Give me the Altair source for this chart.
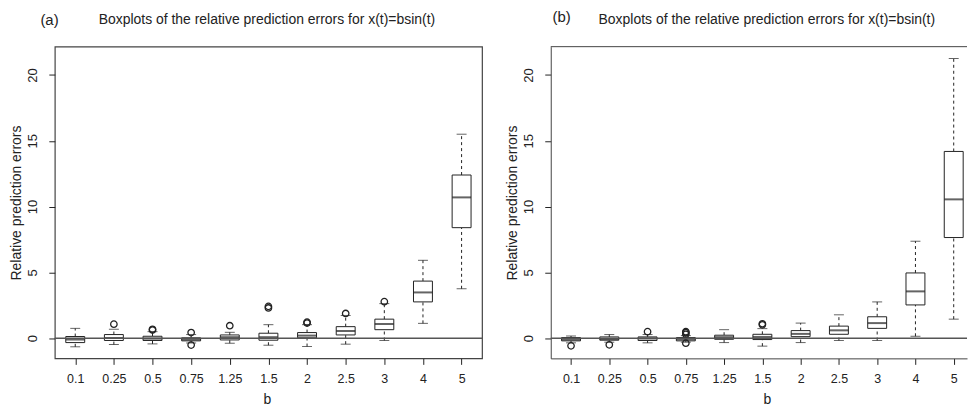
import altair as alt
import pandas as pd

# ---------------- data ----------------
b_labels = ["0.1", "0.25", "0.5", "0.75", "1.25", "1.5", "2", "2.5", "3", "4", "5"]
y_ticks = [0, 5, 10, 15, 20]

# panel (a)
a_lo = [-0.65, -0.48, -0.43, -0.36, -0.38, -0.53, -0.63, -0.45, -0.17, 1.13, 3.76]
a_q1 = [-0.33, -0.17, -0.17, -0.20, -0.13, -0.15, 0.03, 0.25, 0.65, 2.76, 8.40]
a_med = [-0.10, 0.02, -0.03, -0.10, 0.08, 0.08, 0.20, 0.55, 1.08, 3.48, 10.70]
a_q3 = [0.13, 0.28, 0.15, 0.03, 0.25, 0.38, 0.43, 0.88, 1.45, 4.34, 12.40]
a_hi = [0.75, 0.68, 0.50, 0.28, 0.45, 1.03, 1.03, 1.73, 2.63, 5.92, 15.50]
a_out_b = ["0.25", "0.5", "0.5", "0.75", "0.75", "1.25", "1.5", "1.5", "2", "2", "2.5", "3"]
a_out_v = [1.07, 0.62, 0.68, 0.43, -0.52, 0.95, 2.30, 2.42, 1.15, 1.22, 1.88, 2.78]

# panel (b)
b_lo = [-0.35, -0.30, -0.35, -0.30, -0.33, -0.60, -0.33, -0.17, -0.17, 0.15, 1.45]
b_q1 = [-0.20, -0.15, -0.17, -0.20, -0.08, -0.10, 0.12, 0.30, 0.75, 2.53, 7.65]
b_med = [-0.10, -0.05, -0.02, -0.08, 0.08, 0.10, 0.33, 0.60, 1.15, 3.56, 10.55]
b_q3 = [0.05, 0.10, 0.10, 0.05, 0.23, 0.30, 0.58, 0.92, 1.63, 4.96, 14.19]
b_hi = [0.17, 0.28, 0.28, 0.20, 0.65, 0.73, 1.15, 1.78, 2.76, 7.37, 21.25]
b_out_b = ["0.1", "0.25", "0.5", "0.75", "0.75", "0.75", "0.75", "1.5", "1.5"]
b_out_v = [-0.58, -0.50, 0.50, 0.50, 0.42, 0.30, -0.38, 1.02, 1.10]

ref_line = [0]
title_text = ["Boxplots of the relative prediction errors for x(t)=bsin(t)"]
panel_tags = ["(a)", "(b)"]
x_title = "b"
y_title = "Relative prediction errors"

# ---------------- styling ----------------
INK = "#222222"
FRAME = "#444444"
FONT = "Liberation Sans"
H = 313
Y_DOMAIN = [-1.53, 22.15]

lab_expr = "[" + ",".join("'%s'" % s for s in b_labels) + "][datum.value - 1]"


def panel(lo, q1, med, q3, hi, out_b, out_v, tag, width, step, framed,
          tag_x, tag_y, ttl_x):
    pos = list(range(1, len(b_labels) + 1))
    df = pd.DataFrame({"pos": pos, "b": b_labels, "lo": lo, "q1": q1,
                       "med": med, "q3": q3, "hi": hi})
    odf = pd.DataFrame({"pos": [b_labels.index(v) + 1 for v in out_b], "val": out_v})
    xmax = 0.6 + width / step
    xs = alt.Scale(domain=[0.6, xmax], nice=False, zero=False)
    ys = alt.Scale(domain=Y_DOMAIN, nice=False, zero=False)

    xbottom = alt.Axis(orient="bottom", values=pos, labelExpr=lab_expr, grid=False,
                       domain=not framed, domainColor=FRAME, tickColor=INK, tickSize=6,
                       labelFontSize=12.5, labelPadding=8, labelColor=INK,
                       labelFlush=False, labelOverlap=False,
                       title=x_title, titleFontSize=14, titleFontWeight="normal",
                       titleColor=INK, titleY=41, titleX=ttl_x,
                       titleBaseline="middle", titleAlign="center")
    yleft = alt.Axis(orient="left", values=y_ticks, grid=False,
                     domain=not framed, domainColor=FRAME, tickColor=INK, tickSize=6,
                     labelAngle=270, labelAlign="center", labelBaseline="bottom",
                     labelPadding=9, labelFontSize=13, labelColor=INK,
                     labelFlush=False, labelOverlap=False,
                     title=y_title, titleFontSize=14, titleFontWeight="normal",
                     titleColor=INK, titleAngle=270, titleX=-38.8, titleY=H / 2,
                     titleBaseline="middle", titleAlign="center")

    def X():
        return alt.X("pos:Q", scale=xs, axis=xbottom)

    def Y(field):
        return alt.Y(field, type="quantitative", scale=ys, axis=yleft)

    base = alt.Chart(df)
    whisk_up = base.mark_rule(color=INK, strokeDash=[3, 3], strokeWidth=1).encode(
        x=X(), y=Y("q3"), y2="hi:Q")
    whisk_dn = base.mark_rule(color=INK, strokeDash=[3, 3], strokeWidth=1).encode(
        x=X(), y=Y("lo"), y2="q1:Q")
    boxes = base.mark_bar(size=19, fill="white", stroke=INK, strokeWidth=1).encode(
        x=X(), y=Y("q1"), y2="q3:Q")
    medians = base.mark_tick(orient="horizontal", size=19, thickness=2, color=INK).encode(
        x=X(), y=Y("med"))
    cap_hi = base.mark_tick(orient="horizontal", size=10, thickness=1, color=INK).encode(
        x=X(), y=Y("hi"))
    cap_lo = base.mark_tick(orient="horizontal", size=10, thickness=1, color=INK).encode(
        x=X(), y=Y("lo"))
    outliers = alt.Chart(odf).mark_point(shape="circle", filled=False, size=42,
                                         strokeWidth=1.3, color=INK, opacity=1).encode(
        x=X(), y=Y("val"))

    zero = alt.Chart(pd.DataFrame({"y": ref_line})).mark_rule(
        color="#555555", strokeWidth=1.3).encode(y=Y("y"))

    layers = [whisk_up, whisk_dn, boxes, medians, cap_hi, cap_lo, outliers, zero]
    if not framed:
        top = alt.Chart(pd.DataFrame({"y": [Y_DOMAIN[1]]})).mark_rule(
            color=FRAME, strokeWidth=1).encode(y=Y("y"))
        layers.append(top)

    ttl = alt.Chart(pd.DataFrame({"t": title_text})).mark_text(
        fontSize=14, align="center", baseline="middle", color=INK, font=FONT).encode(
        x=alt.value(ttl_x), y=alt.value(-27), text="t:N")
    tg = alt.Chart(pd.DataFrame({"t": [tag]})).mark_text(
        fontSize=15, align="center", baseline="middle", color=INK, font=FONT).encode(
        x=alt.value(tag_x), y=alt.value(tag_y), text="t:N")
    layers += [ttl, tg]

    layer = alt.layer(*layers)
    if framed:
        view = alt.ViewBackground(stroke=FRAME, strokeWidth=1.2, fill="white")
    else:
        view = alt.ViewBackground(stroke="transparent", fill="white")
    return layer.properties(width=width, height=H, view=view)


pa = panel(a_lo, a_q1, a_med, a_q3, a_hi, a_out_b, a_out_v, panel_tags[0],
           429, 429 / 10.8, True, -5.3, -27, 213.0)
pb = panel(b_lo, b_q1, b_med, b_q3, b_hi, b_out_b, b_out_v, panel_tags[1],
           418, 39.37, False, 11.0, -30, 217.0)

chart = alt.hconcat(pa, pb, spacing=20).properties(padding=0).configure(
    font=FONT).configure_axis(labelFont=FONT, titleFont=FONT)

chart.save("out.html", embed_options={"renderer": "svg", "actions": False})
